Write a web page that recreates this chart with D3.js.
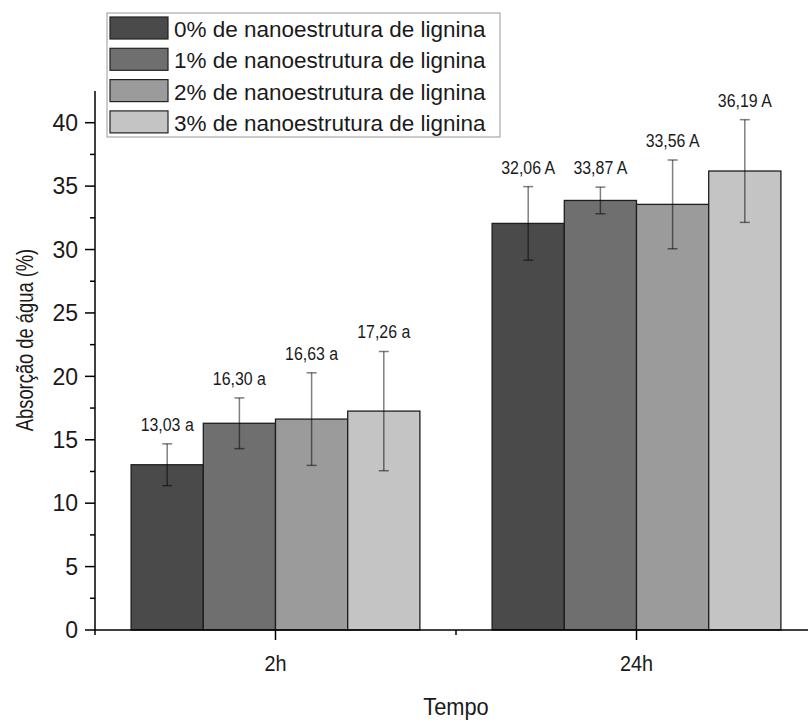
<!DOCTYPE html>
<html>
<head>
<meta charset="utf-8">
<script src="https://cdn.jsdelivr.net/npm/d3@7"></script>
<style>
  body { margin: 0; background: #fff; }
  svg text { font-family: Arial, "Liberation Sans", sans-serif; fill: #1a1a1a; }
</style>
</head>
<body>
<svg id="chart"></svg>
<script>
    'use strict';

    var WIDTH = 808, HEIGHT = 724;

    // data
    var times = ['2h', '24h'];
    var series = ['0% de nanoestrutura de lignina', '1% de nanoestrutura de lignina',
                  '2% de nanoestrutura de lignina', '3% de nanoestrutura de lignina'];
    var values = [[13.03, 16.30, 16.63, 17.26], [32.06, 33.87, 33.56, 36.19]];
    var errors = [[1.65, 2.0, 3.65, 4.7], [2.9, 1.05, 3.5, 4.05]];
    var labels = [['13,03 a', '16,30 a', '16,63 a', '17,26 a'], ['32,06 A', '33,87 A', '33,56 A', '36,19 A']];
    var yTicks = [0, 5, 10, 15, 20, 25, 30, 35, 40];

    var colors = ['#4a4a4a', '#6f6f6f', '#9b9b9b', '#c4c4c4'];

    var svg = d3.select('#chart').attr('width', WIDTH).attr('height', HEIGHT);

    var x = d3.scaleLinear().domain([0, 4]).range([95, 817]);
    var y = d3.scaleLinear().domain([0, 42.5]).range([630, 91]);
    var barW = 0.4;

    var rows = [];
    values.forEach(function(vals, gi) {
        vals.forEach(function(v, si) {
            rows.push({ g: gi, s: si, v: v, e: errors[gi][si], label: labels[gi][si],
                        x0: 1 + gi * 2 - 0.8 + si * barW });
        });
    });

    // bars
    svg.append('g').selectAll('rect').data(rows).enter()
        .append('rect')
            .attr('x', d => x(d.x0))
            .attr('y', d => y(d.v))
            .attr('width', d => x(d.x0 + barW) - x(d.x0))
            .attr('height', d => y(0) - y(d.v))
            .attr('fill', d => colors[d.s])
            .attr('stroke', '#1e1e1e')
            .attr('stroke-width', 1.3);

    // error bars
    var err = svg.append('g')
        .attr('stroke', 'rgba(0,0,0,0.5)')
        .attr('stroke-width', 1.5);
    rows.forEach(function(d) {
        var cx = x(d.x0 + barW / 2);
        err.append('line').attr('x1', cx).attr('x2', cx).attr('y1', y(d.v + d.e)).attr('y2', y(d.v - d.e));
        [d.v + d.e, d.v - d.e].forEach(function(t) {
            err.append('line').attr('x1', cx - 5).attr('x2', cx + 5).attr('y1', y(t)).attr('y2', y(t));
        });
    });

    // value labels
    svg.append('g').selectAll('text').data(rows).enter()
        .append('text')
            .attr('transform', d => 'translate(' + x(d.x0 + barW / 2) + ',' + (y(d.v + d.e) - 13) + ') scale(0.86,1)')
            .attr('text-anchor', 'middle')
            .attr('font-size', 18.5)
            .attr('fill', '#333')
            .text(d => d.label);

    // y axis
    var yAxis = svg.append('g').attr('stroke', '#000').attr('stroke-width', 1.5);
    yAxis.append('line').attr('x1', x(0)).attr('x2', x(0)).attr('y1', y(42.5)).attr('y2', y(0));
    d3.range(0, 42.5, 2.5).forEach(function(t) {
        var major = t % 5 === 0;
        yAxis.append('line')
            .attr('x1', x(0) - (major ? 10 : 5)).attr('x2', x(0))
            .attr('y1', y(t)).attr('y2', y(t));
    });
    svg.append('g').selectAll('text').data(yTicks).enter()
        .append('text')
            .attr('x', x(0) - 17)
            .attr('y', d => y(d))
            .attr('dy', '0.36em')
            .attr('text-anchor', 'end')
            .attr('font-size', 23)
            .text(d => d);

    // x axis
    var xAxis = svg.append('g').attr('stroke', '#000').attr('stroke-width', 1.5);
    xAxis.append('line').attr('x1', x(0)).attr('x2', x(4)).attr('y1', y(0)).attr('y2', y(0));
    [0, 1, 2, 3, 4].forEach(function(t) {
        xAxis.append('line')
            .attr('x1', x(t)).attr('x2', x(t))
            .attr('y1', y(0)).attr('y2', y(0) + (t % 2 === 1 ? 10 : 5));
    });
    svg.append('g').selectAll('text').data(times).enter()
        .append('text')
            .attr('transform', (d, i) => 'translate(' + x(1 + i * 2) + ',671) scale(0.9,1)')
            .attr('text-anchor', 'middle')
            .attr('font-size', 22)
            .text(d => d);

    // axis titles
    svg.append('text')
        .attr('transform', 'translate(456,715) scale(0.95,1)')
        .attr('text-anchor', 'middle')
        .attr('font-size', 23)
        .text('Tempo');
    svg.append('text')
        .attr('transform', 'translate(33,340) rotate(-90) scale(0.78,1)')
        .attr('text-anchor', 'middle')
        .attr('font-size', 23.5)
        .text('Absorção de água (%)');

    // legend
    var legend = svg.append('g');
    legend.append('rect')
        .attr('x', 107).attr('y', 13).attr('width', 393).attr('height', 124)
        .attr('fill', '#fff').attr('stroke', '#999').attr('stroke-width', 1);
    var item = legend.selectAll('g.item').data(series).enter()
        .append('g')
            .attr('class', 'item')
            .attr('transform', (d, i) => 'translate(110,' + (17 + i * 31.3) + ')');
    item.append('rect')
        .attr('width', 58).attr('height', 22)
        .attr('fill', (d, i) => colors[i])
        .attr('stroke', '#222').attr('stroke-width', 1.2);
    item.append('text')
        .attr('x', 64).attr('y', 20)
        .attr('font-size', 22.5)
        .text(d => d);
</script>
</body>
</html>
